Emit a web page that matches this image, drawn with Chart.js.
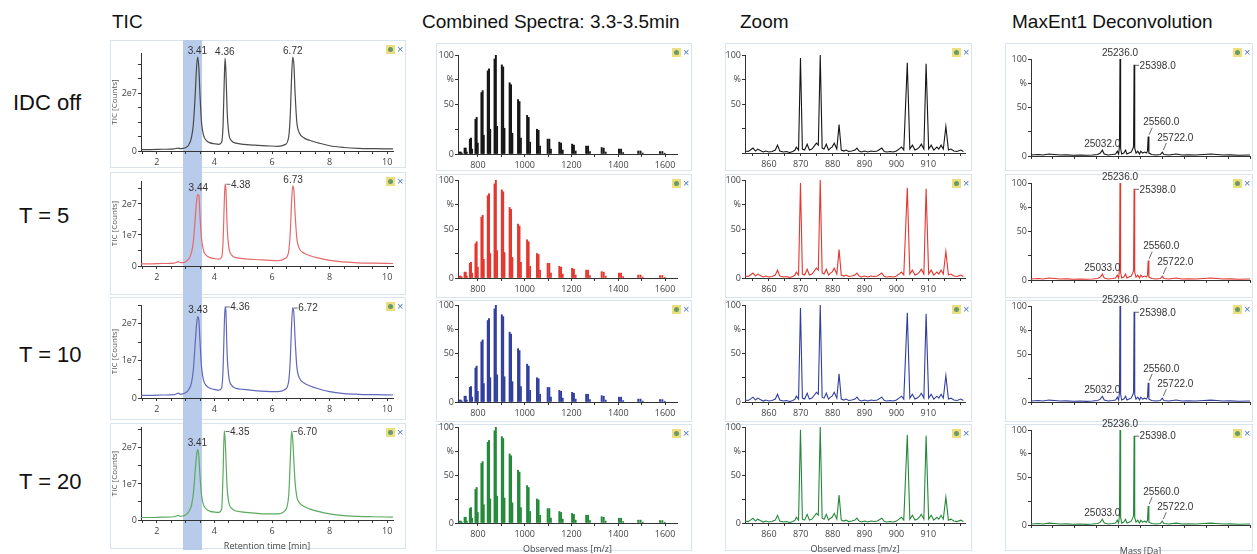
<!DOCTYPE html>
<html>
<head>
<meta charset="utf-8">
<title>IDC comparison</title>
<script src="https://cdn.jsdelivr.net/npm/chart.js@4.4.1/dist/chart.umd.min.js"></script>
<style>
  html, body { margin: 0; padding: 0; }
  body { width: 1257px; height: 554px; overflow: hidden; background: #fff; position: relative;
         font-family: "Liberation Sans", Arial, sans-serif; }
  .box { position: absolute; border: 1px solid #d9e4ec; background: #fff; box-sizing: border-box; z-index: 1; }
  .band { position: absolute; background: #b9cbea; z-index: 2; }
  canvas { position: absolute; z-index: 3; }
  .title { position: absolute; font-size: 19px; color: #111; line-height: 20px; white-space: nowrap; z-index: 4; }
  .rowlab { position: absolute; font-size: 22px; color: #111; line-height: 24px; white-space: nowrap; }
  .icon { position: absolute; z-index: 4; font: 11px "Liberation Sans", Arial, sans-serif; color: #4f79c2; line-height: 11px; }
  .icon b { display: inline-block; width: 9px; height: 9px; background: #ece07e; vertical-align: -1px; margin-right: 2px; position: relative; }
  .icon b:after { content: ""; position: absolute; left: 2px; top: 2px; width: 5px; height: 5px; border-radius: 50%; background: #6a9a6a; }
</style>
</head>
<body>
<script>
// ---- data ----

// TIC traces, counts in units of 1e7
const ticTime = [1.45, 1.8, 2.2, 2.6, 2.75, 2.82, 2.9, 3.0, 3.1, 3.2,
                 3.27, 3.33, 3.38, 3.42, 3.46, 3.5, 3.55, 3.62, 3.72, 3.85,
                 4.0, 4.15, 4.25, 4.3, 4.34, 4.37, 4.4, 4.44, 4.5, 4.6,
                 4.75, 5.0, 5.4, 5.8, 6.2, 6.45, 6.58, 6.64, 6.68, 6.72,
                 6.76, 6.8, 6.86, 6.95, 7.1, 7.3, 7.6, 8.0, 8.5, 9.0,
                 9.5, 10.2];
const ticOff = [0.05, 0.05, 0.06, 0.07, 0.10, 0.08, 0.09, 0.12, 0.20, 0.45,
                0.95, 1.90, 2.90, 3.24, 2.85, 1.90, 1.00, 0.55, 0.36, 0.28,
                0.25, 0.23, 0.30, 0.90, 2.40, 3.20, 2.70, 1.40, 0.60, 0.35,
                0.27, 0.23, 0.20, 0.18, 0.16, 0.22, 0.50, 1.40, 2.60, 3.24,
                2.95, 2.00, 1.00, 0.62, 0.46, 0.37, 0.28, 0.18, 0.12, 0.09,
                0.08, 0.07];
const ticT5 = [0.07, 0.07, 0.08, 0.09, 0.14, 0.11, 0.11, 0.14, 0.22, 0.42,
               0.80, 1.50, 2.10, 2.30, 2.28, 1.60, 0.90, 0.50, 0.34, 0.27,
               0.24, 0.22, 0.28, 0.80, 2.00, 2.65, 2.45, 1.30, 0.60, 0.35,
               0.27, 0.24, 0.21, 0.19, 0.17, 0.24, 0.48, 1.20, 2.10, 2.58,
               2.42, 1.70, 0.90, 0.56, 0.42, 0.34, 0.26, 0.18, 0.13, 0.10,
               0.09, 0.08];
const ticT10 = [0.07, 0.07, 0.08, 0.09, 0.13, 0.10, 0.11, 0.14, 0.22, 0.40,
                0.78, 1.45, 1.98, 2.19, 2.08, 1.50, 0.85, 0.48, 0.33, 0.26,
                0.23, 0.21, 0.27, 0.78, 1.90, 2.46, 2.30, 1.20, 0.56, 0.34,
                0.26, 0.23, 0.20, 0.18, 0.17, 0.23, 0.46, 1.15, 2.00, 2.43,
                2.25, 1.60, 0.85, 0.54, 0.41, 0.33, 0.25, 0.17, 0.12, 0.10,
                0.09, 0.08];
const ticT20 = [0.07, 0.07, 0.08, 0.09, 0.13, 0.10, 0.11, 0.14, 0.22, 0.40,
                0.75, 1.35, 1.80, 1.95, 1.75, 1.20, 0.70, 0.42, 0.30, 0.24,
                0.22, 0.21, 0.30, 1.30, 2.47, 2.25, 1.70, 0.90, 0.48, 0.32,
                0.25, 0.22, 0.19, 0.17, 0.17, 0.26, 0.70, 1.80, 2.47, 2.20,
                1.60, 1.05, 0.65, 0.48, 0.38, 0.31, 0.24, 0.17, 0.12, 0.10,
                0.09, 0.08];
const ticMax = [3.38, 2.74, 2.5, 2.58];
const ticYTickLabels = [[0, 2], [0, 1, 2], [0, 1, 2], [0, 1, 2]];
const ticXTickLabels = [2, 4, 6, 8, 10];
const ticBand = [2.9, 3.56];
// [time, height, text, placement]
const ticPeaksOff = [[3.41, 3.24, '3.41', 'top'], [4.36, 3.20, '4.36', 'top'], [6.72, 3.24, '6.72', 'top']];
const ticPeaksT5  = [[3.44, 2.32, '3.44', 'top'], [4.38, 2.65, '4.38', 'right'], [6.73, 2.58, '6.73', 'top']];
const ticPeaksT10 = [[3.43, 2.19, '3.43', 'top'], [4.36, 2.46, '4.36', 'right'], [6.72, 2.43, '6.72', 'right']];
const ticPeaksT20 = [[3.41, 1.95, '3.41', 'top'], [4.35, 2.47, '4.35', 'right'], [6.70, 2.47, '6.70', 'right']];

// combined spectra: three species per charge state
const specMzA = [722.0, 743.2, 765.7, 789.6, 815.1, 842.2, 871.2, 902.3, 935.7, 971.6,
                 1010.4, 1052.5, 1098.2, 1148.1, 1202.7, 1262.8, 1329.2, 1403.0, 1485.5, 1578.3];
const specPctA = [2, 6, 15, 35, 62, 84, 96, 90, 72, 55, 39, 25, 15, 12, 10, 8, 6.5, 5, 3, 2.5];
const specMzB = [726.7, 748.0, 770.6, 794.7, 820.3, 847.6, 876.8, 908.1, 941.7, 977.8,
                 1016.9, 1059.3, 1105.3, 1155.5, 1210.4, 1270.9, 1337.7, 1412.0, 1495.0, 1588.4];
const specPctB = [2, 6, 16, 37, 64, 86, 100, 88, 70, 53, 37, 24, 15, 11, 9, 8, 6, 5, 3, 2.5];
const specMzC = [731.3, 752.8, 775.6, 799.8, 825.5, 853.0, 882.4, 913.9, 947.7, 984.1,
                 1023.4, 1066.0, 1112.3, 1162.8, 1218.1, 1279.0, 1346.3, 1421.0, 1504.5, 1598.5];
const specPctC = [1, 2, 5, 11, 19, 25, 28, 26, 21, 16, 12, 8, 5, 4, 3, 2.5, 2, 1.5, 1, 0.8];
const specXTickLabels = [800, 1000, 1200, 1400, 1600];

// zoom 852-922 m/z
const zoomMz = [852.5, 853.5, 854.2, 855, 855.8, 856.5, 857.3, 858.2, 859, 860,
                861, 862, 862.7, 863.4, 864.5, 865.5, 866.5, 867.5, 868.2, 868.6,
                869.3, 869.9, 870.5, 871.2, 872, 872.7, 873.5, 874.2, 874.9, 875.5,
                876.1, 876.7, 877.3, 878, 878.7, 879.3, 879.8, 880.5, 881.3, 882.0,
                882.7, 883.5, 884.2, 885, 886, 887, 887.6, 888.3, 889, 890,
                891, 892, 893, 894, 895.4, 896.2, 897, 898, 899, 900,
                900.8, 901.6, 902.3, 903.4, 904.2, 905, 905.8, 906.5, 907.2, 907.8,
                908.6, 909.3, 910.1, 910.9, 911.7, 912.7, 913.3, 914, 914.7, 915.5,
                916.3, 917.1, 918, 919, 920.2, 921];
const zoomPct = [2, 1.5, 3, 5, 2, 4, 2.5, 1, 2, 1,
                 1.5, 3, 8, 2, 1, 1.5, 0.5, 1.5, 3, 6,
                 3, 97, 4, 3, 9, 3, 4, 7, 10, 8,
                 100, 5, 4, 9, 3, 5, 6, 10, 4, 29,
                 3, 2, 3, 1.5, 2, 3, 5, 2, 1, 2,
                 1, 2, 1.5, 2, 5, 1.5, 1, 1.5, 1, 2,
                 4, 6, 3, 92, 4, 8, 3, 4, 6, 9,
                 4, 91, 4, 8, 3, 6, 4, 8, 4, 27,
                 3, 4, 2, 1.5, 3, 1.5];
const zoomXTickLabels = [860, 870, 880, 890, 900, 910];

// MaxEnt1 deconvolution
const maxentDa = [24213, 24300, 24350, 24420, 24480, 24550, 24620, 24700, 24780, 24850,
                  24920, 24980, 25010, 25033, 25055, 25100, 25150, 25185, 25205, 25220,
                  25230, 25236, 25243, 25255, 25280, 25300, 25315, 25340, 25365, 25385,
                  25392, 25398, 25405, 25420, 25440, 25460, 25475, 25495, 25520, 25540,
                  25552, 25560, 25568, 25600, 25650, 25700, 25722, 25740, 25800, 25880,
                  25950, 26020, 26100, 26200, 26280, 26350, 26420, 26500, 26600, 26730];
const maxentPct = [1, 1.5, 1, 2, 1.5, 1, 1.2, 0.8, 1, 0.7,
                   1, 1.5, 3, 6, 2, 1, 1.5, 2, 5, 2,
                   10, 100, 8, 2, 3, 6, 2, 3, 4, 8,
                   10, 94, 8, 3, 5, 2, 5, 3, 4, 3,
                   5, 20, 3, 1.5, 1, 1.5, 4, 1.5, 1, 2,
                   1, 1.2, 1, 1.5, 2, 1.5, 1, 1.2, 0.8, 1];
const maxentXTickLabels = [24500, 25000, 25500, 26000, 26500];
const maxentPeaksA = [[25032, 6, '25032.0', 'top'], [25236, 100, '25236.0', 'top'], [25398, 94, '25398.0', 'right'],
                      [25560, 20, '25560.0', 'lean'], [25722, 4, '25722.0', 'lean']];
const maxentPeaksB = [[25033, 6, '25033.0', 'top'], [25236, 100, '25236.0', 'top'], [25398, 94, '25398.0', 'right'],
                      [25560, 20, '25560.0', 'lean'], [25722, 4, '25722.0', 'lean']];

const rowNames = ['IDC off', 'T = 5', 'T = 10', 'T = 20'];
const colTitles = ['TIC', 'Combined Spectra: 3.3-3.5min', 'Zoom', 'MaxEnt1 Deconvolution'];

// ---- layout ----
const ticRows = [ticOff, ticT5, ticT10, ticT20];
const ticPeaks = [ticPeaksOff, ticPeaksT5, ticPeaksT10, ticPeaksT20];
const maxentPeaks = [maxentPeaksA, maxentPeaksB, maxentPeaksA, maxentPeaksB];
const ticColors = ['#4a4a4a', '#e46a6a', '#6268b8', '#5aab5e'];
const specColors = ['#161616', '#e3372f', '#323f9f', '#25893a'];

const AX_W = 40, PAD_T = 16, PAD_R = 12;
const TICK_FONT = { family: '"Open Sans", "Liberation Sans", sans-serif', size: 9 };
const COLS = [
  { box: [110, 406], plot: [141, 393] },
  { box: [436, 692], plot: [458, 677] },
  { box: [725, 972], plot: [745, 965] },
  { box: [1005, 1253], plot: [1031, 1250] }
];
const BOX_ROWS = [
  [[40, 168], [172, 295], [297, 420], [423, 549]],
  [[43, 171], [174, 298], [300, 422], [424, 551]],
  [[43, 171], [174, 298], [300, 422], [424, 551]],
  [[43, 171], [174, 298], [300, 422], [424, 551]]
];
const PLOT_ROWS = [
  [[53, 151], [181, 266], [305, 398], [427, 520]],
  [[55, 154], [180, 278], [305, 402], [427, 523]],
  [[55, 153], [180, 278], [305, 402], [427, 523]],
  [[59, 156], [183, 280], [306, 402], [430, 525]]
];
const X_TITLES = ['Retention time [min]', 'Observed mass [m/z]', 'Observed mass [m/z]', 'Mass [Da]'];

function addDiv(cls, css, text) {
  const d = document.createElement('div');
  d.className = cls;
  Object.assign(d.style, css);
  if (text) d.textContent = text;
  document.body.appendChild(d);
  return d;
}

// headings and row names
const titleLeft = [112, 422, 740, 1012];
colTitles.forEach((t, i) => addDiv('title', { left: titleLeft[i] + 'px', top: '12px' }, t));
const rowLabelTop = [91, 204, 343, 470];
rowNames.forEach((t, i) => addDiv('rowlab', { left: (i === 0 ? 13 : 19) + 'px', top: rowLabelTop[i] + 'px' }, t));

// panel frames + little icons
COLS.forEach((c, ci) => {
  BOX_ROWS[ci].forEach(([t, b]) => {
    addDiv('box', { left: c.box[0] + 'px', top: t + 'px', width: (c.box[1] - c.box[0]) + 'px', height: (b - t) + 'px' });
    const ic = addDiv('icon', { left: (c.box[1] - 20) + 'px', top: (t + 4) + 'px' });
    ic.innerHTML = '<b></b>×';
  });
});

function addCanvas(col, row) {
  const [pl, pr] = COLS[col].plot;
  const [pt, pb] = PLOT_ROWS[col][row];
  const xh = row === 3 ? 36 : 16;
  const w = pr - pl + AX_W + PAD_R, h = pb - pt + PAD_T + xh;
  const c = document.createElement('canvas');
  c.width = w; c.height = h;
  Object.assign(c.style, { left: (pl - AX_W) + 'px', top: (pt - PAD_T) + 'px', width: w + 'px', height: h + 'px' });
  document.body.appendChild(c);
  return c;
}

const near = (v, list) => list.some(l => Math.abs(v - l) < 1e-6);

function xAxis(col, row, min, max, step, labels) {
  return {
    type: 'linear', min: min, max: max, offset: false,
    afterFit: s => { s.height = row === 3 ? 36 : 16; },
    border: { display: true, color: '#333', width: 1 },
    grid: { display: true, offset: false, drawOnChartArea: false, drawTicks: true, tickLength: 3, tickColor: '#333' },
    ticks: {
      stepSize: step, autoSkip: false, includeBounds: false, maxRotation: 0, padding: 3,
      color: '#444', font: TICK_FONT,
      callback: v => near(v, labels) ? String(Math.round(v)) : ''
    },
    title: row === 3
      ? { display: true, text: X_TITLES[col], color: '#444', font: TICK_FONT, padding: { top: 0, bottom: 4 } }
      : { display: false }
  };
}

function yAxis(max, step, fmt, title) {
  return {
    type: 'linear', min: 0, max: max,
    afterFit: s => { s.width = AX_W; },
    border: { display: true, color: '#333', width: 1 },
    grid: { display: true, drawOnChartArea: false, drawTicks: true, tickLength: 3, tickColor: '#333' },
    ticks: { stepSize: step, autoSkip: false, includeBounds: false, padding: 1, color: '#444', font: TICK_FONT, callback: fmt },
    title: title
      ? { display: true, text: title, color: '#555', font: { family: TICK_FONT.family, size: 8 }, padding: { top: 9, bottom: 0 } }
      : { display: false }
  };
}

function peakLabelPlugin(items) {
  return {
    id: 'peakLabels',
    afterDatasetsDraw(chart) {
      const { ctx, scales: { x, y } } = chart;
      ctx.save();
      ctx.font = '10px "Liberation Sans", Arial, sans-serif';
      ctx.fillStyle = '#333';
      ctx.strokeStyle = '#444';
      ctx.lineWidth = 0.8;
      items.forEach(([vx, vy, text, mode]) => {
        const px = x.getPixelForValue(vx), py = y.getPixelForValue(vy);
        if (mode === 'right') {
          ctx.beginPath(); ctx.moveTo(px + 1, py + 0.5); ctx.lineTo(px + 5, py + 0.5); ctx.stroke();
          ctx.textAlign = 'left'; ctx.textBaseline = 'middle';
          ctx.fillText(text, px + 5.5, py + 1);
        } else if (mode === 'lean') {
          ctx.beginPath(); ctx.moveTo(px + 1, py - 2); ctx.lineTo(px + 4, py - 9); ctx.stroke();
          ctx.textAlign = 'center'; ctx.textBaseline = 'middle';
          ctx.fillText(text, px + 13, py - 14);
        } else {
          ctx.textAlign = 'center'; ctx.textBaseline = 'bottom';
          ctx.fillText(text, px, py - 1);
        }
      });
      ctx.restore();
    }
  };
}

const base = {
  responsive: false, maintainAspectRatio: false, animation: false,
  layout: { padding: { top: PAD_T, right: PAD_R, left: 0, bottom: 0 } },
  plugins: { legend: { display: false }, tooltip: { enabled: false } },
  elements: { point: { radius: 0 } }
};

const pctFmt = showZero => v => v === 100 ? '100' : v === 75 ? '%' : v === 50 ? '50' : (v === 0 && showZero) ? '0' : '';

let ticChart0 = null;

for (let r = 0; r < 4; r++) {
  // TIC
  const tic = new Chart(addCanvas(0, r), {
    type: 'line',
    data: { datasets: [{
      data: ticTime.map((t, i) => ({ x: t, y: ticRows[r][i] })),
      borderColor: ticColors[r], borderWidth: 1.2, cubicInterpolationMode: 'monotone', fill: false
    }] },
    options: Object.assign({}, base, {
      scales: {
        x: xAxis(0, r, 1.45, 10.2, 0.5, ticXTickLabels),
        y: yAxis(ticMax[r], 0.5, v => near(v, ticYTickLabels[r]) ? (v === 0 ? '0' : Math.round(v) + 'e7') : '', 'TIC [Counts]')
      }
    }),
    plugins: [peakLabelPlugin(ticPeaks[r])]
  });
  if (r === 0) ticChart0 = tic;

  // combined spectra
  const bar = (mz, pct, w) => ({
    data: mz.map((m, i) => ({ x: m, y: pct[i] })),
    backgroundColor: specColors[r], borderWidth: 0, barThickness: w, grouped: false
  });
  new Chart(addCanvas(1, r), {
    type: 'bar',
    data: { datasets: [bar(specMzA, specPctA, 1.3), bar(specMzB, specPctB, 1.3), bar(specMzC, specPctC, 1.1)] },
    options: Object.assign({}, base, {
      scales: {
        x: xAxis(1, r, 715, 1651, 100, specXTickLabels),
        y: yAxis(100, 25, pctFmt(true))
      }
    })
  });

  // zoom
  new Chart(addCanvas(2, r), {
    type: 'line',
    data: { datasets: [{
      data: zoomMz.map((m, i) => ({ x: m, y: zoomPct[i] })),
      borderColor: specColors[r], borderWidth: 1.1, tension: 0, fill: false
    }] },
    options: Object.assign({}, base, {
      scales: {
        x: xAxis(2, r, 852.5, 921.5, 5, zoomXTickLabels),
        y: yAxis(100, 25, pctFmt(r > 0))
      }
    })
  });

  // MaxEnt
  new Chart(addCanvas(3, r), {
    type: 'line',
    data: { datasets: [{
      data: maxentDa.map((m, i) => ({ x: m, y: maxentPct[i] })),
      borderColor: specColors[r], borderWidth: 1.1, tension: 0, fill: false
    }] },
    options: Object.assign({}, base, {
      scales: {
        x: xAxis(3, r, 24213, 26730, 250, maxentXTickLabels),
        y: yAxis(100, 25, pctFmt(true))
      }
    }),
    plugins: [peakLabelPlugin(maxentPeaks[r])]
  });
}

// 3.3-3.5 min selection band across the TIC column, placed through the TIC x scale
(function () {
  const sx = ticChart0.scales.x;
  const off = parseFloat(ticChart0.canvas.style.left);
  const x0 = off + sx.getPixelForValue(ticBand[0]);
  const x1 = off + sx.getPixelForValue(ticBand[1]);
  addDiv('band', { left: x0 + 'px', width: (x1 - x0) + 'px', top: BOX_ROWS[0][0][0] + 'px', height: (550 - BOX_ROWS[0][0][0]) + 'px' });
})();
</script>
</body>
</html>
